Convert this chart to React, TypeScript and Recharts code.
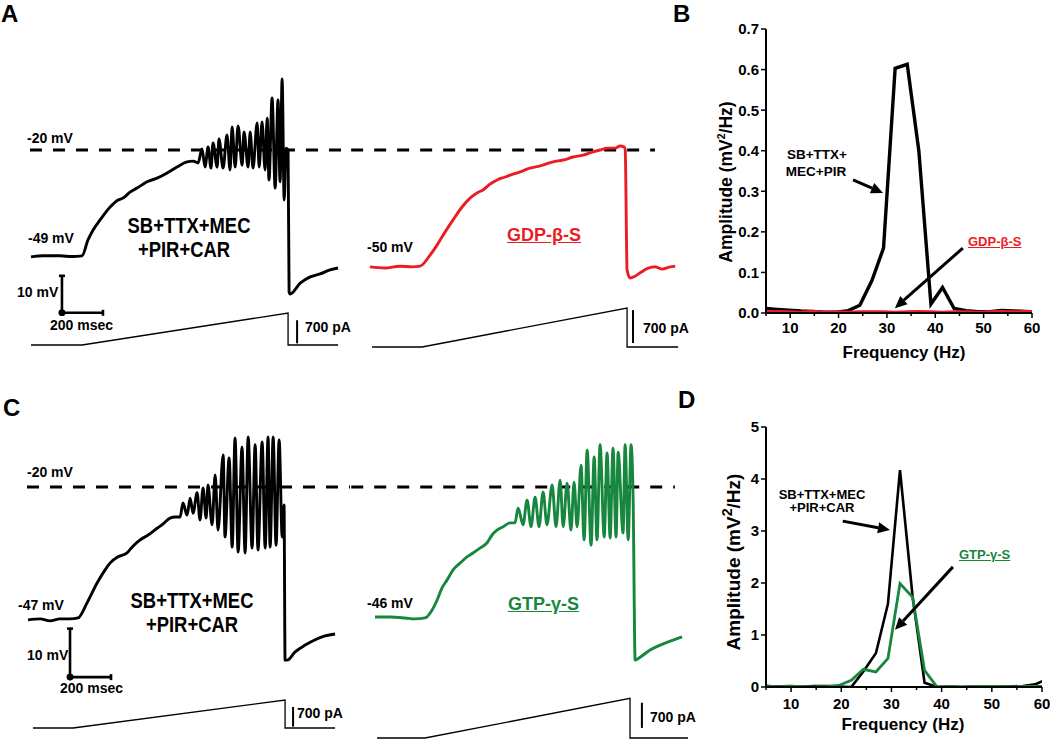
import React from "react";
import { LineChart, Line, XAxis, YAxis, ReferenceLine } from "recharts";

type Pt = [number, number];

const FONT = '"Liberation Sans", Arial, sans-serif';
const RED = "#ec1c24";
const GREEN = "#16873d";

// membrane potential traces, [time ms, mV]
const ctlA: Pt[] = [
  [0, -48.9], [60, -48.6], [141, -48.6], [200, -48.8], [249, -48.6], [278, -44.3], [303, -41.6],
  [337, -38.9], [386, -35.4], [425, -33.5], [449, -33.0], [483, -31.4], [517, -30.3], [566, -28.6],
  [615, -27.6], [664, -26.2], [712, -24.6], [761, -23.2], [791, -23.0],
  [815, -23.5], [834, -19.7], [849, -24.6], [864, -19.2], [878, -24.9], [888, -18.1], [908, -24.6],
  [917, -17.0], [937, -24.9], [956, -15.9], [971, -25.4], [981, -13.8], [996, -24.6], [1010, -13.5],
  [1030, -24.1], [1039, -15.1], [1059, -24.6], [1069, -15.1], [1083, -24.9], [1103, -12.7],
  [1113, -24.6], [1127, -12.4], [1142, -25.4], [1152, -11.4], [1161, -28.1], [1176, -5.9],
  [1191, -30.3], [1205, -6.5], [1215, -28.6], [1225, -0.8], [1235, -33.5], [1244, -19.5],
  [1254, -20.0], [1259, -58.4], [1264, -58.9], [1313, -56.0], [1362, -54.3], [1410, -53.5],
  [1459, -52.4], [1498, -51.9],
];

const gdpA: Pt[] = [
  [0, -51.6], [73, -51.9], [146, -51.4], [205, -51.6], [244, -51.4], [293, -48.4], [327, -45.7],
  [366, -42.2], [405, -38.9], [449, -35.4], [488, -33.0], [522, -31.6], [551, -30.8], [586, -29.2],
  [620, -28.1], [659, -27.3], [683, -26.8], [732, -25.9], [781, -24.9], [830, -24.3], [893, -23.2],
  [942, -22.7], [991, -21.9], [1039, -21.4], [1088, -20.5], [1122, -20.0], [1157, -19.5],
  [1196, -19.5], [1220, -18.9], [1240, -19.2], [1245, -20.0], [1254, -52.4], [1269, -54.6],
  [1293, -54.1], [1318, -53.2], [1357, -51.9], [1391, -51.6], [1425, -52.2], [1464, -51.6],
  [1489, -51.4],
];

const ctlC: Pt[] = [
  [0, -47.4], [59, -47.2], [107, -47.6], [156, -47.2], [205, -47.2], [244, -47.0], [288, -43.9],
  [337, -39.8], [376, -37.1], [400, -35.7], [439, -34.4], [483, -33.6], [512, -32.2], [547, -30.9],
  [586, -29.9], [630, -28.5], [659, -27.6], [693, -26.4], [717, -26.2],
  [742, -26.2], [756, -23.3], [776, -25.8], [791, -22.3], [805, -25.4], [825, -21.2], [839, -26.8],
  [854, -20.2], [869, -26.4], [878, -19.6], [898, -27.8], [913, -17.5], [927, -28.9], [952, -13.4],
  [961, -30.3], [981, -14.0], [996, -32.4], [1010, -9.9], [1025, -33.4], [1044, -11.8],
  [1059, -33.6], [1074, -9.7], [1093, -32.6], [1108, -11.3], [1122, -33.0], [1142, -10.7],
  [1157, -32.6], [1171, -9.7], [1181, -32.4], [1196, -9.7], [1210, -32.0], [1225, -10.3],
  [1240, -30.3], [1249, -23.7], [1254, -55.7], [1264, -55.7], [1303, -54.0], [1352, -52.6],
  [1401, -51.5], [1449, -50.7], [1498, -50.3],
];

const gtpC: Pt[] = [
  [0, -46.8], [73, -46.8], [146, -47.0], [195, -47.2], [244, -47.0], [278, -45.4], [303, -43.3],
  [327, -40.8], [351, -39.2], [381, -37.1], [415, -35.7], [449, -34.4], [478, -33.6], [512, -32.6],
  [547, -31.5], [571, -29.9], [595, -28.9], [625, -28.2], [659, -27.4],
  [683, -27.4], [698, -24.3], [722, -27.8], [742, -22.7], [761, -28.2], [781, -22.1], [800, -28.2],
  [820, -21.0], [839, -27.8], [864, -19.6], [883, -28.2], [903, -18.6], [918, -28.2], [937, -19.2],
  [956, -28.9], [971, -19.0], [986, -28.2], [1005, -15.5], [1020, -30.9], [1035, -12.4],
  [1054, -32.0], [1069, -13.8], [1083, -30.9], [1098, -11.3], [1118, -30.3], [1132, -13.0],
  [1147, -30.5], [1161, -12.0], [1176, -30.3], [1186, -12.8], [1210, -29.5], [1220, -11.3],
  [1235, -30.9], [1249, -11.3], [1259, -22.1], [1269, -55.7], [1293, -55.1], [1342, -53.6],
  [1391, -52.6], [1440, -51.8], [1498, -50.9],
];

// injected current ramps, [time ms, pA]
const rampA1: Pt[] = [[0, 0], [249, 0], [1254, 970], [1254, 0], [1498, 0]];
const rampA2: Pt[] = [[10, 0], [254, 0], [1254, 830], [1254, 0], [1503, 0]];
const rampC1: Pt[] = [[24, 0], [220, 0], [1254, 1000], [1254, 0], [1498, 0]];
const rampC2: Pt[] = [[10, 0], [244, 0], [1244, 1100], [1244, 0], [1527, 0]];

// power spectra
const freqs = [4.88, 7.32, 9.77, 12.2, 14.65, 17.1, 19.5, 22.0, 24.4, 26.9, 29.3, 31.7,
  34.2, 36.6, 39.1, 41.5, 43.9, 46.4, 48.8, 51.3, 53.7, 56.2, 58.6, 61.0];
const ampCtlB = [0.011, 0.009, 0.007, 0.005, 0.004, 0.002, 0.002, 0.006, 0.019, 0.08, 0.16, 0.603,
  0.613, 0.4, 0.022, 0.063, 0.011, 0.006, 0.003, 0.003, 0.006, 0.005, 0.004, 0.003];
const ampGdpB = [0.003, 0.004, 0.003, 0.002, 0.004, 0.002, 0.003, 0.002, 0.003, 0.003, 0.003, 0.002,
  0.003, 0.004, 0.003, 0.002, 0.003, 0.003, 0.002, 0.003, 0.004, 0.003, 0.004, 0.004];
const ampCtlD = [0.02, 0.01, 0.02, 0.01, 0.02, 0.02, 0.01, 0.0, 0.3, 0.65, 1.6, 4.17,
  1.75, 0.08, 0.0, 0.01, 0.0, 0.01, 0.01, 0.01, 0.01, 0.02, 0.05, 0.15];
const ampGtpD = [0.02, 0.0, 0.01, 0.01, 0.0, 0.01, 0.03, 0.13, 0.34, 0.29, 0.55, 1.99,
  1.73, 0.32, 0.0, 0.01, 0.0, 0.01, 0.01, 0.01, 0.0, 0.01, 0.01, 0.01];

const freqTicks = [5, 10, 15, 20, 25, 30, 35, 40, 45, 50, 55, 60];
const ampTicksB = [0, 0.1, 0.2, 0.3, 0.4, 0.5, 0.6, 0.7];
const ampTicksD = [0, 1, 2, 3, 4, 5];

const rowsB = freqs.map((f, i) => ({ f, ctl: ampCtlB[i], gdp: ampGdpB[i] }));
const rowsD = freqs.map((f, i) => ({ f, ctl: ampCtlD[i], gtp: ampGtpD[i] }));

const PX_PER_MS = 0.205;
const toPts = (a: Pt[]) => a.map(([t, v]) => ({ t, v }));

const scaleBarShape = (p: any) => {
  const { x1, y1, x2, y2 } = p;
  const vert = Math.abs(x1 - x2) < 1;
  return (
    <g stroke="#000" strokeWidth={2.6}>
      <line x1={x1} y1={y1} x2={x2} y2={y2} />
      {vert ? <line x1={x2 - 3} y1={y2} x2={x2 + 3} y2={y2} /> : <line x1={x2} y1={y2 - 3} x2={x2} y2={y2 + 3} />}
      <circle cx={x1} cy={y1} r={2} fill="#000" />
    </g>
  );
};

const arrowShape = (p: any) => {
  const { x1, y1, x2, y2 } = p;
  const a = Math.atan2(y2 - y1, x2 - x1);
  const L = 12, W = 5.5;
  const bx = x2 - L * Math.cos(a), by = y2 - L * Math.sin(a);
  const nx = -Math.sin(a) * W, ny = Math.cos(a) * W;
  return (
    <g>
      <line x1={x1} y1={y1} x2={bx} y2={by} stroke="#000" strokeWidth={3} />
      <polygon points={`${x2},${y2} ${bx + nx},${by + ny} ${bx - nx},${by - ny}`} fill="#000" />
    </g>
  );
};

interface TraceProps {
  left: number; top: number; width: number; height: number;
  x0: number; mvY: number; pxPerMv: number; paY: number; pxPerPa: number;
  trace: Pt[]; color: string; ramp: Pt[];
  dash: [number, number]; paBar: [number, number, number]; mvBar?: [number, number];
}

const Trace = (p: TraceProps) => {
  const xDom = [(p.left - p.x0) / PX_PER_MS, (p.left + p.width - p.x0) / PX_PER_MS];
  const vDom = [-20 - (p.top + p.height - p.mvY) / p.pxPerMv, -20 + (p.mvY - p.top) / p.pxPerMv];
  const iDom = [-(p.top + p.height - p.paY) / p.pxPerPa, (p.paY - p.top) / p.pxPerPa];
  return (
    <div style={{ position: "absolute", left: p.left, top: p.top }}>
      <LineChart width={p.width} height={p.height} margin={{ top: 0, right: 0, bottom: 0, left: 0 }}>
        <XAxis type="number" dataKey="t" domain={xDom} allowDataOverflow hide />
        <YAxis yAxisId="v" type="number" domain={vDom} allowDataOverflow hide />
        <YAxis yAxisId="i" type="number" domain={iDom} allowDataOverflow hide />
        <ReferenceLine yAxisId="v" ifOverflow="visible" segment={[{ x: p.dash[0], y: -20 }, { x: p.dash[1], y: -20 }]}
          stroke="#000" strokeWidth={3} strokeDasharray="12 11" />
        <Line yAxisId="i" data={toPts(p.ramp)} dataKey="v" type="linear" stroke="#000"
          strokeWidth={1.3} dot={false} isAnimationActive={false} />
        <Line yAxisId="v" data={toPts(p.trace)} dataKey="v" type="monotoneX" stroke={p.color}
          strokeWidth={2.9} strokeLinejoin="round" dot={false} isAnimationActive={false} />
        <ReferenceLine yAxisId="i" ifOverflow="visible" segment={[{ x: p.paBar[0], y: p.paBar[1] }, { x: p.paBar[0], y: p.paBar[2] }]}
          stroke="#000" strokeWidth={2} />
        {p.mvBar && (
          <ReferenceLine yAxisId="v" ifOverflow="visible" shape={scaleBarShape}
            segment={[{ x: p.mvBar[0], y: p.mvBar[1] }, { x: p.mvBar[0], y: p.mvBar[1] + 10 }]} />
        )}
        {p.mvBar && (
          <ReferenceLine yAxisId="v" ifOverflow="visible" shape={scaleBarShape}
            segment={[{ x: p.mvBar[0], y: p.mvBar[1] }, { x: p.mvBar[0] + 200, y: p.mvBar[1] }]} />
        )}
      </LineChart>
    </div>
  );
};

const freqTick = (yOff: number) => (p: any) => {
  const v = p.payload.value;
  const major = v % 10 === 0;
  return (
    <g>
      <line x1={p.x} x2={p.x} y1={p.y} y2={p.y + (major ? 5 : 3)} stroke="#000" strokeWidth={1.5} />
      {major && (
        <text x={p.x} y={p.y + yOff} textAnchor="middle" fontSize={15} fontWeight={700} fontFamily={FONT} fill="#000">
          {v}
        </text>
      )}
    </g>
  );
};

const ampTick = (digits: number) => (p: any) => (
  <g>
    <line x1={p.x - 5} x2={p.x} y1={p.y} y2={p.y} stroke="#000" strokeWidth={1.5} />
    <text x={p.x - 7} y={p.y} dy="0.36em" textAnchor="end" fontSize={15} fontWeight={700} fontFamily={FONT} fill="#000">
      {p.payload.value.toFixed(digits)}
    </text>
  </g>
);

const T = ({ x, y, size = 14, color = "#000", center = false, tall = false, underline = false, children }: any) => (
  <div
    style={{
      position: "absolute", left: x, top: y, fontSize: size, fontWeight: 700, color, fontFamily: FONT,
      lineHeight: 1, whiteSpace: "nowrap", textDecoration: underline ? "underline" : "none",
      transformOrigin: "50% 0",
      transform: (center ? "translateX(-50%)" : "") + (tall ? " scale(0.97, 1.17)" : ""),
    }}
  >
    {children}
  </div>
);

const VLabel = ({ x, y, size, supSize }: any) => (
  <div
    style={{
      position: "absolute", left: x, top: y, fontSize: size, fontWeight: 700, fontFamily: FONT,
      lineHeight: 1, whiteSpace: "nowrap", transform: "translate(-50%, -50%) rotate(-90deg)",
    }}
  >
    Amplitude (mV<sup style={{ fontSize: supSize, verticalAlign: "super", lineHeight: 0 }}>2</sup>/Hz)
  </div>
);

const axisStyle = { stroke: "#000", strokeWidth: 2 };

export default function App() {
  return (
    <div style={{ position: "absolute", left: 0, top: 0, width: 1050, height: 742, background: "#fff", overflow: "hidden" }}>
      {/* row A */}
      <Trace left={20} top={40} width={330} height={330} x0={31} mvY={150} pxPerMv={3.7} paY={345} pxPerPa={0.033}
        trace={ctlA} color="#000" ramp={rampA1} dash={[-5, 1560]} paBar={[1298, 50, 750]} mvBar={[151, -64]} />
      <Trace left={350} top={40} width={340} height={330} x0={370} mvY={150} pxPerMv={3.7} paY={347} pxPerPa={0.047}
        trace={gdpA} color={RED} ramp={rampA2} dash={[-92, 1390]} paBar={[1283, 85, 785]} />

      {/* row C */}
      <Trace left={15} top={400} width={335} height={342} x0={28} mvY={487} pxPerMv={4.85} paY={728} pxPerPa={0.028}
        trace={ctlC} color="#000" ramp={rampC1} dash={[-5, 1575]} paBar={[1293, 50, 750]} mvBar={[205, -59.2]} />
      <Trace left={350} top={400} width={345} height={342} x0={375} mvY={487} pxPerMv={4.85} paY={738} pxPerPa={0.036}
        trace={gtpC} color={GREEN} ramp={rampC2} dash={[-116, 1463]} paBar={[1302, 280, 980]} />

      {/* B spectrum */}
      <div style={{ position: "absolute", left: 690, top: 0 }}>
        <LineChart width={360} height={370} data={rowsB} margin={{ top: 29, right: 18, bottom: 27, left: 16 }}>
          <XAxis type="number" dataKey="f" domain={[5, 60]} ticks={freqTicks} interval={0} allowDataOverflow
            height={30} tickSize={0} tickMargin={0} tickLine={false} axisLine={axisStyle} tick={freqTick(20)} />
          <YAxis type="number" domain={[0, 0.7]} ticks={ampTicksB} interval={0} allowDataOverflow width={60}
            tickSize={0} tickMargin={0} tickLine={false} axisLine={axisStyle} tick={ampTick(1)} />
          <Line dataKey="ctl" type="linear" stroke="#000" strokeWidth={3.4} dot={false} isAnimationActive={false} />
          <Line dataKey="gdp" type="linear" stroke={RED} strokeWidth={3} dot={false} isAnimationActive={false} />
          <ReferenceLine segment={[{ x: 23.0, y: 0.328 }, { x: 29.2, y: 0.296 }]} shape={arrowShape} />
          <ReferenceLine segment={[{ x: 45.7, y: 0.16 }, { x: 31.65, y: 0.012 }]} shape={arrowShape} />
        </LineChart>
      </div>

      {/* D spectrum */}
      <div style={{ position: "absolute", left: 690, top: 370 }}>
        <LineChart width={360} height={372} data={rowsD} margin={{ top: 57, right: 8, bottom: 25, left: 16 }}>
          <XAxis type="number" dataKey="f" domain={[5, 60]} ticks={freqTicks} interval={0} allowDataOverflow
            height={30} tickSize={0} tickMargin={0} tickLine={false} axisLine={axisStyle} tick={freqTick(22)} />
          <YAxis type="number" domain={[0, 5]} ticks={ampTicksD} interval={0} allowDataOverflow width={60}
            tickSize={0} tickMargin={0} tickLine={false} axisLine={axisStyle} tick={ampTick(0)} />
          <Line dataKey="ctl" type="linear" stroke="#000" strokeWidth={2.6} dot={false} isAnimationActive={false} />
          <Line dataKey="gtp" type="linear" stroke={GREEN} strokeWidth={2.8} dot={false} isAnimationActive={false} />
          <ReferenceLine segment={[{ x: 20.3, y: 3.19 }, { x: 29.7, y: 3.02 }]} shape={arrowShape} />
          <ReferenceLine segment={[{ x: 42.25, y: 2.31 }, { x: 30.7, y: 1.1 }]} shape={arrowShape} />
        </LineChart>
      </div>

      {/* panel letters */}
      <T x={1} y={2} size={24}>A</T>
      <T x={673} y={2} size={24}>B</T>
      <T x={3} y={396} size={24}>C</T>
      <T x={678} y={388} size={24}>D</T>

      {/* A labels */}
      <T x={27} y={131}>-20 mV</T>
      <T x={28} y={231}>-49 mV</T>
      <T x={189} y={214} size={19} center tall>SB+TTX+MEC</T>
      <T x={184} y={238} size={19} center tall>+PIR+CAR</T>
      <T x={17} y={285}>10 mV</T>
      <T x={50} y={318}>200 msec</T>
      <T x={305} y={320}>700 pA</T>
      <T x={367} y={240}>-50 mV</T>
      <T x={507} y={226} size={18} color={RED} underline>GDP-β-S</T>
      <T x={643} y={321}>700 pA</T>

      {/* B labels */}
      <T x={817} y={148} size={13.5} center>SB+TTX+</T>
      <T x={816} y={165} size={13.5} center>MEC+PIR</T>
      <T x={968} y={235} size={13} color={RED} underline>GDP-β-S</T>
      <T x={904} y={344} size={17} center>Frequency (Hz)</T>
      <VLabel x={727} y={182} size={17.5} supSize="0.6em" />

      {/* C labels */}
      <T x={27} y={465}>-20 mV</T>
      <T x={18} y={598}>-47 mV</T>
      <T x={192} y={589} size={19} center tall>SB+TTX+MEC</T>
      <T x={192} y={613} size={19} center tall>+PIR+CAR</T>
      <T x={27} y={648}>10 mV</T>
      <T x={60} y={681}>200 msec</T>
      <T x={297} y={706}>700 pA</T>
      <T x={367} y={596}>-46 mV</T>
      <T x={508} y={595} size={18} color={GREEN} underline>GTP-γ-S</T>
      <T x={650} y={710}>700 pA</T>

      {/* D labels */}
      <T x={822} y={488} size={13} center>SB+TTX+MEC</T>
      <T x={822} y={501} size={13} center>+PIR+CAR</T>
      <T x={959} y={548} size={13} color={GREEN} underline>GTP-γ-S</T>
      <T x={903} y={716} size={17} center>Frequency (Hz)</T>
      <VLabel x={733} y={562} size={19} supSize="0.75em" />
    </div>
  );
}
